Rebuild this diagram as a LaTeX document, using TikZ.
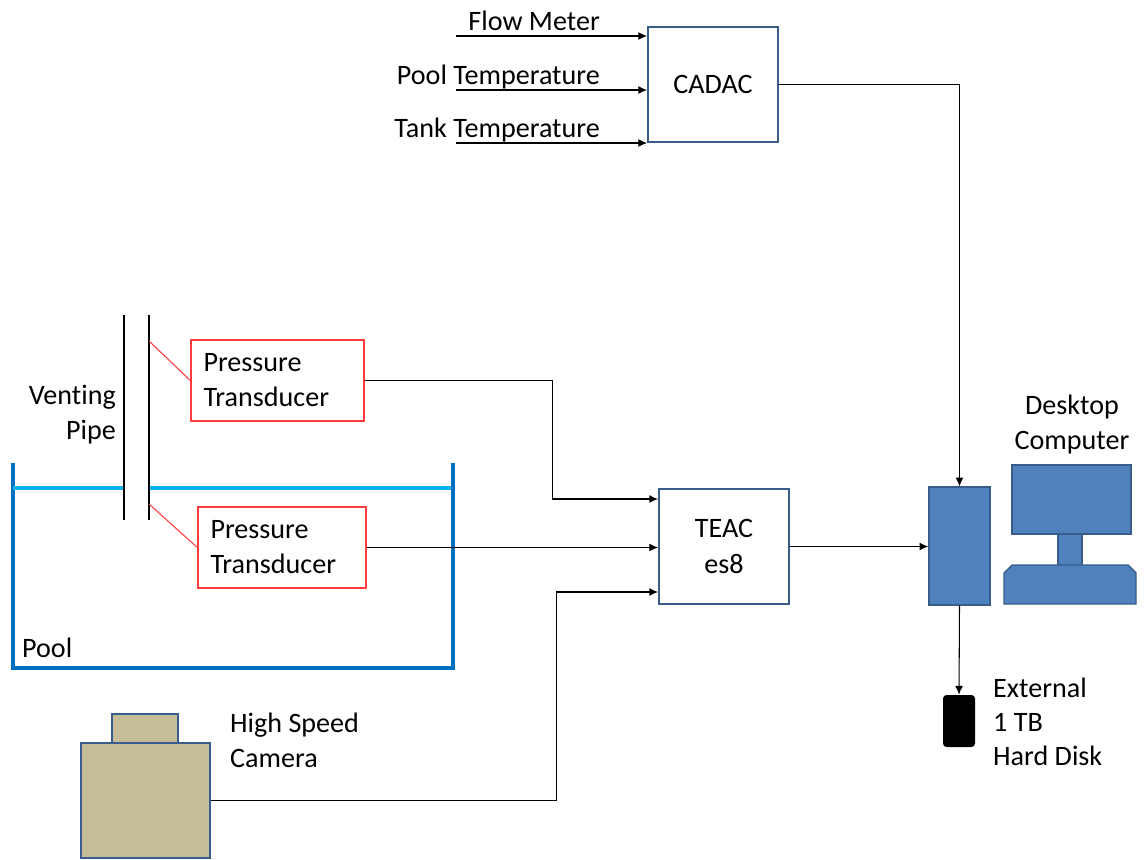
\documentclass[tikz,border=0pt]{standalone}
\usepackage{fontspec}
\setmainfont{Carlito}[Ligatures=NoCommon]
\usetikzlibrary{arrows.meta}

\definecolor{boxblue}{HTML}{385D8A}
\definecolor{pcblue}{HTML}{4F81BD}
\definecolor{poolblue}{HTML}{0070C0}
\definecolor{waterblue}{HTML}{00B0F0}
\definecolor{camtan}{HTML}{C4BD97}
\definecolor{ptred}{HTML}{FF3B3B}

\begin{document}
\begin{tikzpicture}[x=0.02cm,y=-0.02cm,
    font=\fontsize{16}{20}\selectfont,
    daq/.style={draw=boxblue,line width=1.1pt,minimum width=2.6cm,minimum height=2.3cm,align=center},
    ptbox/.style={draw=ptred,line width=0.8pt,minimum height=1.62cm,align=left,inner xsep=0.25cm},
    pcpart/.style={draw=boxblue,fill=pcblue,line width=0.8pt},
    sig/.style={-{Latex[length=5pt,width=4.5pt]},line width=0.6pt},
    tap/.style={draw=ptred,line width=0.6pt}]
    \useasboundingbox (0,0) rectangle (1145,859);

    % data acquisition boxes
    \node[daq] (cadac) at (713,84.5) {CADAC};
    \node[daq] (teac) at (724,546.5) {TEAC\\es8};

    \foreach \y/\lbl [count=\i] in {36/Flow Meter,90/Pool Temperature,143/Tank Temperature}{
        \coordinate (in\i) at (456,\y);
        \node[anchor=base east] (lbl\i) at (606,\y-6) {\lbl};
        \draw[sig] (in\i) -- (in\i -| cadac.west);
    }

    % pool with venting pipe
    \begin{scope}
      \draw[poolblue,line width=2.8pt] (13,463) -- (13,668) -- (453,668) -- (453,463);
      \draw[waterblue,line width=2.8pt] (13,488) -- (123,488) (149,488) -- (451,488);
      \draw[line width=0.9pt] (124,315) -- (124,520) (149,315) -- (149,520);
      \coordinate (tap1) at (149,341);
      \coordinate (tap2) at (149,504);
      \node[anchor=east,align=right] (pipe) at (122,414.5) {Venting\\Pipe};
      \node[anchor=west] (pool) at (16,648) {Pool};
    \end{scope}

    \node[ptbox,text width=2.96cm] (pt1) at (277.5,380.5) {Pressure\\Transducer};
    \node[ptbox,text width=2.86cm] (pt2) at (282,547.5) {Pressure\\Transducer};
    \draw[tap] (tap1) -- (pt1.west);
    \draw[tap] (tap2) -- (pt2.west);

    % camera
    \begin{scope}
      \draw[draw=boxblue,fill=camtan,line width=1pt] (112,714) rectangle (178,743);
      \node[draw=boxblue,fill=camtan,line width=1pt,minimum width=2.58cm,minimum height=2.3cm] (cam) at (145.5,800.5) {};
      \node[anchor=west,align=left] (camlbl) at (224,740) {High Speed\\Camera};
    \end{scope}

    % desktop computer
    \begin{scope}
      \node[pcpart,minimum width=1.22cm,minimum height=2.36cm] (tower) at (959.5,546) {};
      \draw[pcpart] (1058,530) rectangle (1082,566);
      \draw[pcpart] (1012,465) rectangle (1131,534);
      \draw[pcpart] (1004,604) -- (1004,573) -- (1012,565) -- (1128,565) -- (1136,573) -- (1136,604) -- cycle;
      \node[align=center] (pclbl) at (1072,424.5) {Desktop\\Computer};
      \node[fill=black,rounded corners=2pt,minimum width=0.64cm,minimum height=1.04cm] (disk) at (959,721) {};
      \node[anchor=west,align=left,font=\fontsize{16}{19.5}\selectfont] (disklbl) at (987,722) {External\\1 TB\\Hard Disk};
    \end{scope}

    % signal lines
    \draw[sig] (pt1.east) -- ++(188,0) |- ([yshift=0.95cm]teac.west);
    \draw[sig] (pt2.east) -- (pt2.east -| teac.west);
    \draw[sig] (cam.east) -- ++(346,0) |- ([yshift=-0.91cm]teac.west);
    \draw[sig] (teac.east) -- (teac.east -| tower.west);
    \draw[sig] (cadac.east) -| (tower.north);
    \draw[sig] (tower.south) -- (disk.north);
\end{tikzpicture}
\end{document}
